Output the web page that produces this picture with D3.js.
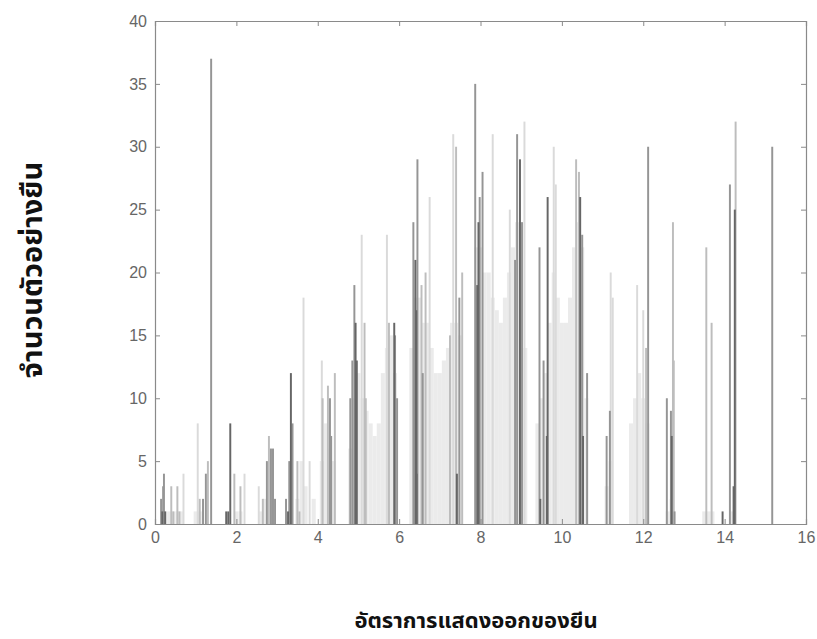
<!DOCTYPE html>
<html>
<head>
<meta charset="utf-8">
<script src="https://cdn.jsdelivr.net/npm/d3@7"></script>
<style>
  html, body { margin: 0; padding: 0; background: #fff; }
  svg { display: block; }
</style>
</head>
<body>
<svg id="chart" width="817" height="639"></svg>
<script>
// ---- data ----
const xTicks = [0, 2, 4, 6, 8, 10, 12, 14, 16];
const yTicks = [0, 5, 10, 15, 20, 25, 30, 35, 40];
const xTitle = "อัตราการแสดงออกของยีน";
const yTitle = "จำนวนตัวอย่างยืน";

// background density (light) bins: expression rate, count
const bandX = [0.25, 0.35, 0.45, 0.55, 0.65, 1.0, 1.1, 2.0, 2.1, 2.6, 2.7, 2.9,
  3.5, 3.6, 3.7, 3.9, 4.1, 4.2, 4.3, 4.4,
  4.8, 4.9, 5.0, 5.1, 5.2, 5.3, 5.4, 5.5, 5.6, 5.7, 5.8, 5.9,
  6.3, 6.4, 6.5, 6.6, 6.7, 6.8, 6.9, 7.0, 7.1, 7.2, 7.3, 7.4, 7.5,
  7.9, 8.0, 8.1, 8.2, 8.3, 8.4, 8.5, 8.6, 8.7, 8.8, 8.9, 9.0, 9.1,
  9.4, 9.5, 9.6, 9.7, 9.8, 9.9, 10.0, 10.1, 10.2, 10.3, 10.4, 10.5, 10.6,
  11.1, 11.2, 11.7, 11.8, 11.9, 12.0, 12.1, 12.6, 12.7, 13.5, 13.6, 13.7, 14.2];
const bandCount = [1, 1, 1, 1, 1, 1, 1, 1, 1, 1, 2, 2,
  2, 5, 3, 2, 5, 8, 6, 5,
  6, 10, 12, 10, 9, 8, 7, 8, 12, 14, 15, 12,
  14, 18, 18, 16, 16, 14, 12, 12, 13, 14, 16, 16, 15,
  22, 22, 20, 20, 18, 17, 16, 18, 20, 22, 24, 24, 14,
  8, 10, 12, 16, 20, 18, 16, 16, 18, 22, 24, 22, 10,
  3, 5, 8, 10, 12, 10, 8, 1, 2, 1, 1, 1, 1];

// individual bars: expression rate, count, sample group (0 = darkest ... 3 = faintest)
const barX = [0.15, 0.18, 0.2, 0.22, 0.25, 0.4, 0.45, 0.55, 0.6, 0.7,
  1.05, 1.1, 1.18, 1.25, 1.3, 1.38,
  1.75, 1.8, 1.85, 1.95, 2.1, 2.2,
  2.55, 2.65, 2.75, 2.8, 2.85, 2.9, 2.95,
  3.22, 3.27, 3.3, 3.34, 3.38, 3.5, 3.55, 3.65, 3.8,
  4.1, 4.12, 4.25, 4.3, 4.33, 4.42,
  4.8, 4.85, 4.9, 4.93, 4.96, 5.08, 5.15, 5.18,
  5.7, 5.75, 5.88, 5.9, 5.95,
  6.35, 6.4, 6.42, 6.45, 6.43, 6.55, 6.58, 6.65, 6.75,
  7.25, 7.33, 7.4, 7.42, 7.48, 7.55,
  7.87, 7.92, 7.95, 7.98, 8.05, 8.3,
  8.72, 8.85, 8.9, 8.97, 9.02, 9.08,
  9.45, 9.47, 9.55, 9.65, 9.63, 9.8, 9.85,
  10.35, 10.42, 10.45, 10.5, 10.52, 10.62,
  11.1, 11.18, 11.2, 11.25,
  11.85, 12.0, 12.07, 12.12,
  12.58, 12.68, 12.7, 12.73, 12.75, 12.77,
  13.55, 13.68, 13.95,
  14.13, 14.25, 14.27, 14.22,
  15.17];
const barCount = [2, 1, 3, 4, 1, 3, 1, 3, 1, 4,
  8, 2, 2, 4, 5, 37,
  1, 1, 8, 4, 3, 4,
  3, 2, 5, 7, 6, 6, 2,
  2, 1, 5, 12, 8, 5, 1, 18, 5,
  13, 10, 11, 10, 7, 12,
  10, 13, 19, 16, 13, 23, 16, 10,
  23, 16, 16, 15, 10,
  24, 21, 17, 29, 4, 19, 12, 20, 26,
  15, 31, 30, 4, 18, 20,
  35, 19, 24, 26, 28, 31,
  25, 21, 31, 29, 24, 32,
  22, 2, 13, 26, 7, 30, 27,
  29, 28, 26, 23, 7, 12,
  7, 9, 20, 18,
  19, 17, 14, 30,
  10, 9, 7, 24, 13, 1,
  22, 16, 1,
  27, 25, 32, 3,
  30];
const barGroup = [1, 0, 1, 1, 0, 2, 2, 2, 2, 3,
  3, 2, 1, 1, 2, 1,
  0, 0, 0, 2, 2, 3,
  3, 2, 1, 2, 1, 1, 1,
  1, 0, 1, 0, 1, 2, 2, 3, 3,
  3, 2, 2, 1, 1, 2,
  1, 1, 1, 0, 0, 3, 2, 2,
  3, 2, 0, 1, 1,
  1, 0, 0, 1, 0, 2, 1, 2, 3,
  2, 3, 2, 0, 1, 2,
  1, 0, 0, 1, 1, 3,
  3, 1, 1, 0, 1, 3,
  1, 0, 1, 0, 0, 3, 3,
  2, 2, 0, 1, 0, 1,
  1, 1, 3, 3,
  3, 3, 2, 1,
  1, 1, 0, 2, 2, 1,
  2, 2, 0,
  1, 0, 2, 0,
  1];

// ---- drawing ----
const svg = d3.select("#chart");
const mLeft = 155, mRight = 806, mTop = 21, mBottom = 524;

const x = d3.scaleLinear().domain([0, 16]).range([mLeft, mRight]);
const y = d3.scaleLinear().domain([0, 40]).range([mBottom, mTop]);
const groupColor = d3.scaleOrdinal().domain([0, 1, 2, 3])
  .range(["#666666", "#959595", "#bdbdbd", "#dadada"]);

const plot = svg.append("g");

const bands = bandX.map((v, i) => ({ x: v, c: bandCount[i] }));
plot.selectAll("rect.band").data(bands).enter().append("rect")
  .attr("class", "band")
  .attr("x", d => x(d.x - 0.05))
  .attr("width", d => x(d.x + 0.05) - x(d.x - 0.05))
  .attr("y", d => y(d.c))
  .attr("height", d => y(0) - y(d.c))
  .attr("fill", "#ebebeb");

const bars = barX.map((v, i) => ({ x: v, c: barCount[i], g: barGroup[i] }))
  .sort((a, b) => b.g - a.g);
const bw = 0.048;
plot.selectAll("rect.bar").data(bars).enter().append("rect")
  .attr("class", "bar")
  .attr("x", d => x(d.x - bw / 2))
  .attr("width", d => x(d.x + bw / 2) - x(d.x - bw / 2))
  .attr("y", d => y(d.c))
  .attr("height", d => y(0) - y(d.c))
  .attr("fill", d => groupColor(d.g));

// axes box with inward ticks on all sides
const axisColor = "#8a8a8a";
const tl = 5;
const gx = svg.append("g").attr("transform", `translate(0,${mBottom})`)
  .call(d3.axisBottom(x).tickValues(xTicks).tickSize(-tl).tickPadding(8).tickFormat(d3.format("d")));
const gxt = svg.append("g").attr("transform", `translate(0,${mTop})`)
  .call(d3.axisTop(x).tickValues(xTicks).tickSize(-tl).tickFormat(""));
const gy = svg.append("g").attr("transform", `translate(${mLeft},0)`)
  .call(d3.axisLeft(y).tickValues(yTicks).tickSize(-tl).tickPadding(8).tickFormat(d3.format("d")));
const gyr = svg.append("g").attr("transform", `translate(${mRight},0)`)
  .call(d3.axisRight(y).tickValues(yTicks).tickSize(-tl).tickFormat(""));

[gx, gxt, gy, gyr].forEach(g => {
  g.select(".domain").attr("stroke", axisColor).attr("stroke-width", 1.2);
  g.selectAll(".tick line").attr("stroke", axisColor);
  g.selectAll(".tick text").attr("fill", "#666")
    .attr("font-family", "'Liberation Sans', Arial, sans-serif")
    .attr("font-size", 16);
});

// titles
svg.append("text")
  .attr("x", 476).attr("y", 628)
  .attr("text-anchor", "middle")
  .attr("font-family", "'Noto Sans Thai', 'Noto Sans', 'DejaVu Sans', sans-serif")
  .attr("font-weight", "bold")
  .attr("font-size", 22)
  .attr("fill", "#111")
  .text(xTitle);

svg.append("text")
  .attr("transform", "translate(42,270) rotate(-90)")
  .attr("text-anchor", "middle")
  .attr("font-family", "'Noto Sans Thai', 'Noto Sans', 'DejaVu Sans', sans-serif")
  .attr("font-weight", "bold")
  .attr("font-size", 29)
  .attr("fill", "#111")
  .text(yTitle);
</script>
</body>
</html>
